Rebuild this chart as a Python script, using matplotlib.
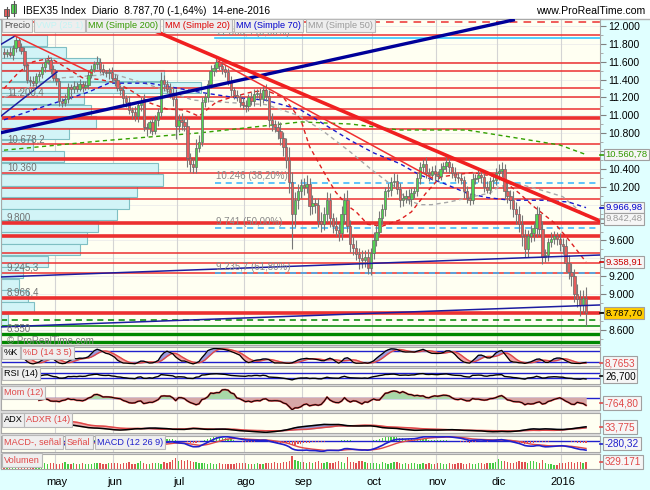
import numpy as np
import pandas as pd
import matplotlib
matplotlib.use("Agg")
import matplotlib.pyplot as plt
from matplotlib.patches import Rectangle
from matplotlib.lines import Line2D

plt.rcParams['font.family'] = ['Liberation Sans', 'DejaVu Sans']

# ---------------- data ----------------
close_apr = [11690, 11710, 11680, 11750, 11840, 11770, 11720, 11560, 11400, 11380, 11360, 11440,
             11460, 11540, 11600, 11620, 11520, 11420]
close_may = [11380, 11160, 11140, 11180, 11320, 11300, 11330, 11300, 11350, 11320, 11340, 11450,
             11520, 11580, 11600, 11520, 11480, 11470, 11490, 11420]
close_jun = [11390, 11310, 11280, 11190, 11150, 11060, 11040, 10990, 11120, 11160, 10870, 10860,
             10920, 10830, 10950, 11040, 11400, 11350, 11300, 11250, 11180, 10880]
close_jul = [10950, 10930, 10880, 10520, 10450, 10420, 10640, 10700, 11150, 11200, 11350, 11500,
             11530, 11600, 11550, 11520, 11480, 11380, 11280, 11230, 11200, 11150, 11120]
close_ago = [11100, 11200, 11160, 11240, 11250, 11180, 11280, 11220, 10950, 10900, 10870, 10830,
             10750, 10650, 10500, 10250, 9900, 10050, 10150, 10220]
close_sep = [10200, 10230, 9980, 10020, 10000, 9820, 9780, 9900, 10050, 9850, 9760, 9720,
             9680, 9900, 10050, 9760, 9560, 9520, 9450, 9400, 9380, 9420]
close_oct = [9290, 9460, 9600, 9700, 9850, 9950, 10150, 10170, 10250, 10270, 10180, 10050,
             10080, 10100, 10060, 10130, 10150, 10300, 10420, 10460, 10350, 10330]
close_nov = [10380, 10340, 10320, 10400, 10430, 10480, 10420, 10350, 10310, 10300, 10280, 10150,
             10080, 10050, 10290, 10300, 10330, 10310, 10200, 10170, 10260]
close_dic = [10280, 10360, 10380, 10400, 10150, 10100, 10050, 9950, 9900, 9780, 9650, 9500,
             9650, 9680, 9740, 9900, 9730, 9420, 9440, 9580, 9620, 9650, 9620]
close_ene = [9560, 9540, 9350, 9250, 9200, 9000, 8950, 8880, 8960, 8787.7]

up_wick = [40, 30, 60, 40, 50, 30, 40, 50, 30, 40, 60, 30, 40, 50, 40, 60, 30, 40,
           50, 40, 30, 60, 40, 30, 50, 40, 60, 30, 40, 50, 40, 30, 60, 40, 50, 30, 40, 50,
           40, 60, 30, 50, 40, 70, 30, 60, 40, 50, 80, 40, 30, 60, 50, 40, 90, 50, 40, 60, 70, 120,
           60, 80, 50, 90, 60, 70, 100, 80, 60, 50, 40, 60, 40, 50, 30, 60, 40, 50, 60, 40, 50, 40, 60,
           50, 40, 60, 50, 40, 60, 50, 70, 60, 80, 50, 70, 90, 60, 100, 150, 120, 90, 80, 70,
           80, 100, 70, 90, 60, 80, 100, 70, 90, 80, 60, 100, 70, 90, 80, 110, 70, 90, 80, 60, 90, 70,
           80, 60, 90, 70, 80, 60, 50, 70, 60, 80, 70, 60, 50, 70, 80, 60, 50, 70, 60, 50, 70, 60,
           50, 60, 40, 70, 50, 60, 40, 50, 70, 60, 50, 40, 60, 50, 70, 40, 60, 50, 40, 60, 50,
           60, 50, 70, 80, 60, 90, 70, 100, 80, 90, 110, 80, 70, 90, 60, 80, 70, 90, 60, 50, 70, 60, 50,
           60, 70, 80, 90, 100, 80, 110, 90, 80, 120]
dn_wick = [50, 40, 30, 60, 40, 50, 30, 60, 40, 50, 30, 40, 60, 40, 50, 30, 60, 40,
           40, 60, 50, 30, 40, 120, 50, 40, 30, 60, 40, 50, 30, 40, 60, 50, 30, 40, 60, 50,
           60, 40, 50, 70, 60, 40, 80, 50, 60, 70, 40, 90, 60, 50, 40, 70, 60, 80, 50, 60, 80, 140,
           70, 90, 60, 100, 80, 60, 70, 50, 40, 60, 50, 40, 60, 50, 40, 60, 50, 40, 60, 50, 40, 60, 50,
           60, 50, 40, 60, 50, 70, 40, 60, 80, 70, 60, 90, 80, 100, 90, 120, 400, 150, 100, 80,
           90, 70, 100, 80, 90, 70, 80, 60, 90, 100, 80, 70, 90, 80, 100, 70, 90, 80, 70, 120, 90, 80,
           60, 80, 70, 60, 50, 70, 80, 60, 70, 50, 60, 80, 70, 60, 50, 70, 60, 50, 70, 60, 50, 60,
           50, 70, 60, 40, 50, 60, 70, 50, 40, 60, 50, 70, 60, 50, 40, 60, 50, 70, 60, 40, 50,
           70, 60, 80, 70, 90, 80, 100, 90, 120, 80, 110, 90, 80, 70, 90, 100, 70, 80, 60, 70, 50, 60, 70,
           80, 90, 100, 80, 110, 90, 100, 120, 90, 150]

volume = [250, 230, 260, 300, 280, 240, 310, 290, 260, 300, 270, 250, 280, 320, 300, 260, 290, 310,
          270, 240, 300, 350, 260, 250, 280, 230, 270, 300, 260, 240, 250, 290, 310, 280, 240, 260, 300, 320,
          280, 300, 260, 320, 290, 340, 270, 260, 300, 380, 290, 270, 250, 310, 280, 300, 260, 330, 290, 350, 420, 560,
          380, 460, 400, 450, 370, 330, 360, 310, 280, 300, 260, 290, 270, 250, 280, 240, 260, 270, 230, 250, 290, 300, 310,
          280, 260, 250, 240, 300, 270, 260, 280, 310, 290, 330, 300, 320, 360, 340, 380, 660, 420, 380, 360,
          340, 320, 360, 300, 340, 380, 300, 320, 350, 290, 310, 330, 400, 360, 320, 610, 360, 340, 310, 380, 400, 330,
          300, 280, 320, 290, 270, 330, 300, 260, 280, 350, 330, 300, 270, 290, 260, 280, 300, 250, 270, 290, 260, 280,
          270, 250, 280, 300, 260, 270, 290, 250, 240, 280, 300, 270, 260, 290, 250, 270, 300, 280, 260, 290, 280,
          320, 350, 500, 400, 380, 340, 310, 300, 330, 370, 350, 340, 320, 380, 390, 360, 300, 420, 320, 250, 230, 200, 210,
          300, 310, 280, 330, 350, 310, 360, 340, 320, 329]

month_idx = [18, 38, 60, 83, 103, 127, 149, 170, 192]
month_lbl = ['may', 'jun', 'jul', 'ago', 'sep', 'oct', 'nov', 'dic', '2016']

# moving averages (vertices)
sma20_i = [0, 5, 10, 16, 20, 23, 27, 33, 39, 44, 50, 56, 62, 67, 73, 79, 85, 90, 96, 102, 105, 110,
           114, 118, 121, 125, 130, 136, 140, 145, 150, 154, 161, 166, 170, 177, 182, 189, 194, 200]
sma20_p = [11300, 11480, 11600, 11640, 11560, 11500, 11420, 11400, 11360, 11270, 11140, 11070, 11060,
           10990, 11150, 11210, 11260, 11280, 11200, 10950, 10650, 10360, 10140, 9990, 9920, 9780, 9760,
           9830, 9920, 10130, 10310, 10330, 10360, 10330, 10310, 10130, 9980, 9800, 9610, 9358.91]
sma50_i = [0, 10, 20, 33, 36, 50, 65, 79, 90, 101, 109, 119, 126, 132, 136, 138, 143, 147, 153, 161,
           167, 170, 176, 185, 192, 200]
sma50_p = [11200, 11330, 11420, 11450, 11480, 11340, 11170, 11140, 11120, 11000, 10840, 10590, 10400,
           10250, 10170, 10060, 10000, 10000, 10030, 10090, 10130, 10200, 10240, 10160, 10090, 9870]
sma70_i = [0, 10, 29, 36, 50, 67, 79, 90, 102, 113, 119, 127, 136, 143, 151, 159, 166, 174, 185, 194, 200]
sma70_p = [10950, 11060, 11260, 11360, 11360, 11260, 11200, 11170, 11060, 10840, 10720, 10580, 10460,
           10330, 10240, 10130, 10080, 10050, 10050, 10030, 9966.98]
sma200_i = [0, 33, 67, 102, 119, 136, 159, 174, 191, 200]
sma200_p = [10610, 10713, 10803, 10926, 10903, 10836, 10836, 10758, 10668, 10560.78]

# horizontal levels
levels_thin = [11899, 11583, 11500, 11303, 11209, 11072, 10848, 10677, 10352, 10185, 10061, 9457, 9352, 9234]
levels_thick = [10974, 10509, 9800, 9654, 8961, 8793]
level_dash = [12045]
green_dash = [8712]
green_thin = [8644]
green_thick = [8555, 8459]

fib_start = 72.5
fib_levels = [11866.4, 10246, 9741, 9235.7]
fib_text = ['11.866,4 (0,00%)', '10.246 (38,20%)', '9.741 (50,00%)', '9.235,7 (61,80%)']

# volume profile (VWP 25 1): bar lengths top to bottom
vwp_top = 11899
vwp_step = 129.8
vwp_len = [46, 65, 98, 163, 200, 83, 90, 95, 68, 32, 63, 157, 162, 136, 128, 116, 97, 86, 79, 47,
           22, 18, 27, 33, 7]
vwp_val = [11200.4, 10678.2, 10360, 9800, 9245.3, 8966.4, 8550]
vwp_txt = ['11.200,4', '10.678,2', '10.360', '9.800', '9.245,3', '8.966,4', '8.550']

# trend lines: (i0, p0, i1, p1)
navy_thick = (-1.4, 10803, 175, 12067)
navy_thin = [(-1.4, 11787, 3.8, 11888), (-1.4, 10982, 18.2, 11485),
             (-1.4, 9191, 204.8, 9437), (-1.4, 8632, 204.8, 8878)]
red_thick = (51.9, 11944, 204.8, 9818)
red_thin = [(3.8, 11888, 30.2, 11474), (73.5, 11608, 147.1, 10299)]

# price ticks hidden behind the value boxes
hidden_ticks = [10600, 10000, 9800, 9400, 8800]

# ---------------- derived series ----------------
close = np.array(close_apr + close_may + close_jun + close_jul + close_ago +
                 close_sep + close_oct + close_nov + close_dic + close_ene, dtype=float)
n = len(close)
idx = np.arange(n)
opn = np.r_[close[0] + 20, close[:-1]]
high = np.maximum(opn, close) + np.array(up_wick)
low = np.minimum(opn, close) - np.array(dn_wick)
up = close >= opn

df = pd.DataFrame({'c': close, 'h': high, 'l': low})
ll = df.l.rolling(14, min_periods=1).min()
hh = df.h.rolling(14, min_periods=1).max()
stk = (100 * (df.c - ll) / (hh - ll)).rolling(3, min_periods=1).mean()
std = stk.rolling(5, min_periods=1).mean()

delta = df.c.diff()
gain = delta.clip(lower=0).ewm(alpha=1 / 14, adjust=False).mean()
loss = (-delta.clip(upper=0)).ewm(alpha=1 / 14, adjust=False).mean()
rsi = 100 - 100 / (1 + gain / loss)

mom = df.c - df.c.shift(12)

updm = df.h.diff()
dndm = -df.l.diff()
pdm = pd.Series(np.where((updm > dndm) & (updm > 0), updm, 0.0))
mdm = pd.Series(np.where((dndm > updm) & (dndm > 0), dndm, 0.0))
tr = pd.concat([df.h - df.l, (df.h - df.c.shift()).abs(), (df.l - df.c.shift()).abs()], axis=1).max(axis=1)
atr = tr.ewm(alpha=1 / 14, adjust=False).mean()
pdi = 100 * pdm.ewm(alpha=1 / 14, adjust=False).mean() / atr
mdi = 100 * mdm.ewm(alpha=1 / 14, adjust=False).mean() / atr
dx = 100 * (pdi - mdi).abs() / (pdi + mdi)
adx = dx.ewm(alpha=1 / 14, adjust=False).mean()
adxr = (adx + adx.shift(14)) / 2

ema12 = df.c.ewm(span=12, adjust=False).mean()
ema26 = df.c.ewm(span=26, adjust=False).mean()
macd = ema12 - ema26
sig = macd.ewm(span=9, adjust=False).mean()
hist = macd - sig

# ---------------- figure ----------------
W, H = 650, 490
fig = plt.figure(figsize=(6.5, 4.9), dpi=100)
fig.patch.set_facecolor('#e0ffff')
fig.patches.append(Rectangle((0, 1 - 19 / H), 1, 19 / H, transform=fig.transFigure,
                             facecolor='white', edgecolor='none', zorder=-5))
fig.patches.append(Rectangle((0, 1 - 469 / H), 600 / W, (469 - 345) / H, transform=fig.transFigure,
                             facecolor='#dcdcdc', edgecolor='none', zorder=-5))
fig.lines.append(Line2D([0, 1], [1 - 19 / H, 1 - 19 / H], transform=fig.transFigure,
                        color='#b0b0b0', lw=1, zorder=-4))

XL = (-1.03, 204.8)
BG = '#fffff2'


def panel(t, b):
    a = fig.add_axes([1 / W, 1 - b / H, 599 / W, (b - t) / H])
    a.set_facecolor(BG)
    a.set_xlim(*XL)
    a.set_xticks([])
    a.set_yticks([])
    for s in a.spines.values():
        s.set_color('#a8a8a8')
        s.set_linewidth(0.8)
    for m in month_idx:
        a.axvline(m - 0.5, color='#d4d4d4', lw=0.8, zorder=0.5)
    return a


ax = panel(19, 345)
ax.set_ylim(8430, 12078)

# grid + right axis
yt = np.arange(8600, 12001, 200)
ax.set_yticks(yt)
ax.set_yticks(np.arange(8500, 12001, 100), minor=True)
ax.set_yticklabels(['' if v in hidden_ticks else f"{int(v):,}".replace(',', '.') for v in yt])
ax.yaxis.tick_right()
ax.tick_params(axis='y', which='major', length=4, color='#808080', labelsize=7.5, pad=2)
ax.tick_params(axis='y', which='minor', length=2, color='#a0a0a0')
for v in yt:
    ax.axhline(v, color='#ececec', lw=0.6, zorder=0.4)

# volume profile
for k, L in enumerate(vwp_len):
    ctr = vwp_top - (k + 0.5) * vwp_step
    ax.barh(ctr, L / 2.91, left=XL[0], height=vwp_step * 0.97, color='#d2f4f7',
            edgecolor='#7fbfc3', lw=0.8, zorder=1)
for v, t in zip(vwp_val, vwp_txt):
    ax.text(1.0, v, t, fontsize=7, color='#707070', va='bottom', ha='left', zorder=9)

# horizontal levels
for v in levels_thin:
    ax.axhline(v, color='#ec3030', lw=1.1, zorder=2)
for v in levels_thick:
    ax.axhline(v, color='#ec3030', lw=2.6, zorder=2)
for v in level_dash:
    ax.axhline(v, color='#ec3030', lw=1.1, ls=(0, (5, 4)), zorder=2)
for v in green_dash:
    ax.axhline(v, color='#008800', lw=1.1, ls=(0, (4, 3)), zorder=2)
for v in green_thin:
    ax.axhline(v, color='#008800', lw=1.1, zorder=2)
for v in green_thick:
    ax.axhline(v, color='#008800', lw=2.4, zorder=2)

# fibonacci
for k, (v, t) in enumerate(zip(fib_levels, fib_text)):
    if k == 0:
        ax.plot([fib_start, XL[1]], [v, v], color='#33c6ff', lw=1.2, zorder=2.2)
    else:
        ax.plot([fib_start, XL[1]], [v, v], color='#33b4ff', lw=1.1, ls=(0, (4, 3)), zorder=2.2)
    ax.text(fib_start + 0.5, v + 15, t, fontsize=7, color='#8a8a8a', va='bottom', zorder=9)

# moving averages
ax.plot(sma200_i, sma200_p, color='#33a000', lw=1, ls=(0, (3, 2.5)), zorder=3)
ax.plot(sma50_i, sma50_p, color='#a8a8a8', lw=1, ls=(0, (3, 2.5)), zorder=3)
ax.plot(sma70_i, sma70_p, color='#1a1acc', lw=1, ls=(0, (3, 2.5)), zorder=3)
ax.plot(sma20_i, sma20_p, color='#dd2020', lw=1, ls=(0, (3, 2.5)), zorder=3)

# candles
ax.vlines(idx, low, high, color='#777777', lw=0.8, zorder=4)
body = np.maximum(np.abs(close - opn), 12)
ax.bar(idx, body, bottom=np.minimum(opn, close), width=0.8,
       color=np.where(up, '#52d452', '#e65c5c'), edgecolor='#6a6a6a', lw=0.5, zorder=4.5)

# trend lines
i0, p0, i1, p1 = navy_thick
ax.plot([i0, i1], [p0, p1], color='#000099', lw=2.4, zorder=5)
for i0, p0, i1, p1 in navy_thin:
    ax.plot([i0, i1], [p0, p1], color='#1c1ca0', lw=1.1, zorder=5)
i0, p0, i1, p1 = red_thick
ax.plot([i0, i1], [p0, p1], color='#f02020', lw=2.6, zorder=5)
for i0, p0, i1, p1 in red_thin:
    ax.plot([i0, i1], [p0, p1], color='#f03030', lw=1.1, zorder=5)

ax.text(1.0, 8470, '\u00a9 ProRealTime.com', fontsize=7, color='#808080', va='center', zorder=9)

# main legend boxes
legend = [('Precio', 4, '#505050'), ('VWP (25 1)', 36, '#c4f4f4'), ('MM (Simple 200)', 88, '#339900'),
          ('MM (Simple 20)', 165, '#dd0000'), ('MM (Simple 70)', 236, '#0000cc'),
          ('MM (Simple 50)', 308, '#9a9a9a')]
for t, x, c in legend:
    fig.text(x / W, 1 - 25.5 / H, t, fontsize=6.6, color=c, va='center', ha='left', zorder=10,
             bbox=dict(boxstyle='square,pad=0.22', fc='#eeeeee', ec='#b8b8b8', lw=0.8))

# value boxes on price axis
tr_y = ax.get_yaxis_transform()
vboxes = [(10560.78, '10.560,78', '#339900', '#f6f6f6'), (9966.98, '9.966,98', '#0000cc', '#f6f6f6'),
          (9842.48, '9.842,48', '#999999', '#f6f6f6'), (9358.91, '9.358,91', '#cc0000', '#f6f6f6'),
          (8787.70, '8.787,70', '#000000', '#ffcc00')]
for v, t, c, fc in vboxes:
    ax.plot([1.0, 1.007], [v, v], color=c, lw=1.2, transform=tr_y, clip_on=False, zorder=9)
    ax.text(1.009, v, t, fontsize=6.8, color=c, va='center', ha='left', transform=tr_y, zorder=10,
            bbox=dict(boxstyle='square,pad=0.14', fc=fc, ec='#a0a0a0', lw=0.8))

# ---------------- indicator panels ----------------
RED = '#e04848'
BLUE = '#2020cc'

a1 = panel(347, 366)
a1.set_ylim(-5, 105)
a1.axhline(80, color=BLUE, lw=1, zorder=1)
a1.axhline(20, color=BLUE, lw=1, zorder=1)
a1.fill_between(idx, stk, std, where=stk >= std, color='#9c9ce0', interpolate=True, zorder=2)
a1.fill_between(idx, stk, std, where=stk < std, color='#f2a4a4', interpolate=True, zorder=2)
a1.plot(idx, std, color=RED, lw=1, zorder=3)
a1.plot(idx, stk, color='black', lw=0.9, zorder=3)

a2 = panel(368, 384)
a2.set_ylim(-16, 112)
a2.axhline(70, color=BLUE, lw=1)
a2.axhline(30, color=BLUE, lw=1)
a2.plot(idx, rsi, color='black', lw=1, zorder=3)

a3 = panel(386, 410)
mlim = np.nanmax(np.abs(mom)) * 1.08
a3.set_ylim(-mlim * 0.95, mlim)
a3.axhline(0, color=BLUE, lw=1)
a3.fill_between(idx, mom, 0, where=mom >= 0, color='#a8d8a8', interpolate=True, zorder=2)
a3.fill_between(idx, mom, 0, where=mom < 0, color='#d6a8a8', interpolate=True, zorder=2)
a3.plot(idx, mom, color=RED, lw=1.4, zorder=3)
a3.plot(idx, mom, color='black', lw=0.7, zorder=3.5)

a4 = panel(413, 433)
a4.set_ylim(np.nanmin(adx) - 3, np.nanmax(adx) + 3)
ok = adxr.notna().values
a4.fill_between(idx[ok], adx[ok], adxr[ok], where=(adx >= adxr).values[ok], color='#9898d0',
                interpolate=True, zorder=2)
a4.fill_between(idx[ok], adx[ok], adxr[ok], where=(adx < adxr).values[ok], color='#f0b0b0',
                interpolate=True, zorder=2)
a4.plot(idx, adxr, color=RED, lw=1.1, zorder=3)
a4.plot(idx, adx, color='black', lw=1.1, zorder=3)

a5 = panel(436, 452)
lo5, hi5 = np.nanmin(np.r_[macd, sig]), np.nanmax(np.r_[macd, sig])
a5.set_ylim(lo5 - 20, hi5 + 20)
a5.axhline(0, color=BLUE, lw=1)
a5.bar(idx, hist, width=0.4, color=np.where(hist >= 0, '#44cc44', '#e05050'), zorder=2)
a5.plot(idx, sig, color=RED, lw=1, zorder=3)
a5.plot(idx, macd, color=BLUE, lw=1.2, zorder=3)

a6 = panel(454, 469)
a6.set_ylim(0, max(volume) * 1.12)
a6.bar(idx, volume, width=0.45, color=np.where(up, '#44cc44', '#e05050'), zorder=2)

# month labels
a6.set_xticks(month_idx)
a6.set_xticklabels(month_lbl, fontsize=8)
a6.tick_params(axis='x', length=0, pad=6)

# panel label boxes
plabels = [(352.5, [('%K', 4, 'black'), ('%D (14 3 5)', 23, RED)]),
           (373.5, [('RSI (14)', 4, 'black')]),
           (392.5, [('Mom (12)', 4, RED)]),
           (420, [('ADX', 4, 'black'), ('ADXR (14)', 26, RED)]),
           (442, [('MACD-, señal', 4, RED), ('Señal', 67, RED), ('MACD (12 26 9)', 97, BLUE)]),
           (460, [('Volumen', 4, RED)])]
for y, items in plabels:
    for t, x, c in items:
        fig.text(x / W, 1 - y / H, t, fontsize=6.6, color=c, va='center', ha='left', zorder=10,
                 bbox=dict(boxstyle='square,pad=0.22', fc='#efefef', ec='#b8b8b8', lw=0.8))

rlabels = [(363, '8,7653', RED), (376, '26,700', 'black'), (403, '-764,80', RED),
           (427, '33,775', RED), (443.5, '-280,32', BLUE), (462, '329.171', RED)]
for y, t, c in rlabels:
    fig.text(605 / W, 1 - y / H, t, fontsize=7.2, color=c, va='center', ha='left', zorder=10,
             bbox=dict(boxstyle='square,pad=0.16', fc='#f6f6f6', ec='#a0a0a0', lw=0.8))
    fig.lines.append(Line2D([600 / W, 604 / W], [1 - y / H, 1 - y / H], transform=fig.transFigure,
                            color=c, lw=1.2))

# header
fig.text(23 / W, 1 - 11 / H, 'IBEX35 Index  Diario  8.787,70 (-1,64%)  14-ene-2016',
         fontsize=7.4, color='black', va='center')
fig.text(645 / W, 1 - 11 / H, 'www.ProRealTime.com', fontsize=7.6, color='black', va='center', ha='right')
fig.patches.append(Rectangle((4 / W, 1 - 16 / H), 5 / W, 7 / H, transform=fig.transFigure,
                             fc='#e65c5c', ec='#555555', lw=0.6))
fig.patches.append(Rectangle((11 / W, 1 - 13 / H), 5 / W, 9 / H, transform=fig.transFigure,
                             fc='#52d452', ec='#555555', lw=0.6))
fig.lines.append(Line2D([13.5 / W, 13.5 / W], [1 - 16 / H, 1 - 1 / H], transform=fig.transFigure,
                        color='#555555', lw=0.8))
fig.lines.append(Line2D([6.5 / W, 6.5 / W], [1 - 18 / H, 1 - 7 / H], transform=fig.transFigure,
                        color='#555555', lw=0.8))

fig.savefig('out.png', dpi=100, facecolor=fig.get_facecolor())
